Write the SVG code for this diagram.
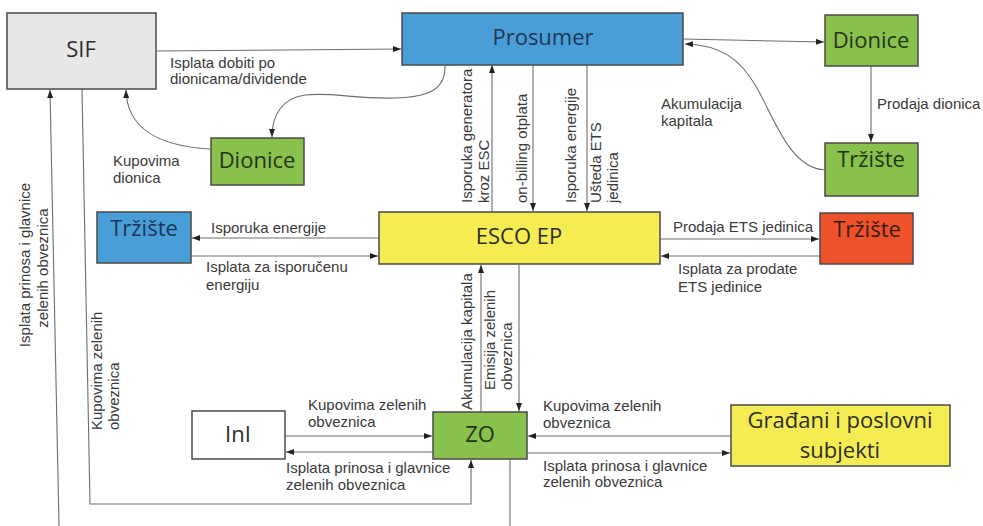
<svg xmlns="http://www.w3.org/2000/svg" width="983" height="526" viewBox="0 0 983 526">
  <defs>
    <marker id="arrow" viewBox="0 0 8 6" refX="8" refY="3" markerWidth="8" markerHeight="6" markerUnits="userSpaceOnUse" orient="auto">
      <path d="M0,0 L8,3 L0,6 z" fill="#222"/>
    </marker>
    <style>
      .box { stroke: #4a4a4a; stroke-width: 1.5; }
      .gray { fill: #e7e7e7; }
      .blue { fill: #4a9ed8; }
      .green { fill: #88c14b; }
      .yellow { fill: #f4ec52; }
      .red { fill: #ee522a; }
      .white { fill: #ffffff; }
      .node-label { font-family: "Open Sans", "Noto Sans", sans-serif; font-size: 22px; text-anchor: middle; fill: #2d2d2d; }
      .on-blue { fill: #1d3555; }
      .on-green { fill: #25331a; }
      .on-red { fill: #3a1a10; }
      .edge { fill: none; stroke: #6e6e6e; stroke-width: 1.1; }
      .arr { marker-end: url(#arrow); }
      .lbl { font-family: "Liberation Sans", Arial, sans-serif; font-size: 15px; fill: #3a3a3a; }
      .mid { text-anchor: middle; }
    </style>
  </defs>

  <rect width="983" height="526" fill="#ffffff"/>

  <!-- connectors -->
  <g id="connectors">
    <path class="edge arr" d="M157,51 L401,49"/>
    <path class="edge arr" d="M683,39 L824,42"/>
    <path class="edge arr" d="M871,66 L871,142"/>
    <path class="edge arr" d="M825,170 C790,168 775,120 757,88 C740,58 720,45 685,44"/>
    <path class="edge arr" d="M445,65 C446,90 428,97 395,98 C355,99 330,92 305,95 C283,98 272,114 272,137"/>
    <path class="edge arr" d="M210,149 C160,146 127,130 126,90"/>
    <path class="edge arr" d="M492,212 L492,65"/>
    <path class="edge arr" d="M533,65 L533,211"/>
    <path class="edge arr" d="M587,65 L587,211"/>
    <path class="edge arr" d="M379,238 L192,238"/>
    <path class="edge arr" d="M191,256 L378,256"/>
    <path class="edge arr" d="M660,239 L819,239"/>
    <path class="edge arr" d="M820,256 L661,256"/>
    <path class="edge arr" d="M481,411 L481,265"/>
    <path class="edge arr" d="M519,265 L519,411"/>
    <path class="edge arr" d="M285,436 L432,436"/>
    <path class="edge arr" d="M433,452 L286,452"/>
    <path class="edge arr" d="M731,436 L528,436"/>
    <path class="edge arr" d="M527,453 L730,453"/>
    <path class="edge arr" d="M82,89 L90,504 L471,504 L471,460"/>
    <path class="edge arr" d="M59,526 L50,90"/>
    <path class="edge" d="M510,459 L510,526"/>
  </g>

  <!-- connector labels -->
  <g id="edge-labels">
    <text class="lbl" x="170" y="68">Isplata dobiti po</text>
    <text class="lbl" x="170" y="84">dionicama/dividende</text>
    <text class="lbl" x="113" y="166">Kupovima</text>
    <text class="lbl" x="113" y="183">dionica</text>
    <text class="lbl" x="661" y="109">Akumulacija</text>
    <text class="lbl" x="661" y="126">kapitala</text>
    <text class="lbl" x="877" y="109">Prodaja dionica</text>
    <text class="lbl" x="211" y="233">Isporuka energije</text>
    <text class="lbl" x="206" y="272">Isplata za isporučenu</text>
    <text class="lbl" x="206" y="290">energiju</text>
    <text class="lbl" x="673" y="232">Prodaja ETS jedinica</text>
    <text class="lbl" x="678" y="274">Isplata za prodate</text>
    <text class="lbl" x="678" y="292">ETS jedinice</text>
    <text class="lbl" x="308" y="410">Kupovima zelenih</text>
    <text class="lbl" x="308" y="427">obveznica</text>
    <text class="lbl" x="286" y="473">Isplata prinosa i glavnice</text>
    <text class="lbl" x="286" y="490">zelenih obveznica</text>
    <text class="lbl" x="543" y="411">Kupovima zelenih</text>
    <text class="lbl" x="543" y="428">obveznica</text>
    <text class="lbl" x="543" y="471">Isplata prinosa i glavnice</text>
    <text class="lbl" x="543" y="487">zelenih obveznica</text>

    <!-- vertical labels -->
    <text class="lbl mid" transform="translate(30,265) rotate(-90)">Isplata prinosa i glavnice</text>
    <text class="lbl mid" transform="translate(48,268) rotate(-90)">zelenih obveznica</text>
    <text class="lbl" transform="translate(102,430) rotate(-90)">Kupovima zelenih</text>
    <text class="lbl" transform="translate(119,430) rotate(-90)">obveznica</text>
    <text class="lbl" transform="translate(472,203) rotate(-90)">Isporuka generatora</text>
    <text class="lbl" transform="translate(489,203) rotate(-90)">kroz ESC</text>
    <text class="lbl" transform="translate(527,203) rotate(-90)">on-billing otplata</text>
    <text class="lbl" transform="translate(576,203) rotate(-90)">Isporuka energije</text>
    <text class="lbl" transform="translate(601,203) rotate(-90)">Ušteda ETS</text>
    <text class="lbl" transform="translate(618,203) rotate(-90)">jedinica</text>
    <text class="lbl" transform="translate(472,410) rotate(-90)">Akumulacija kapitala</text>
    <text class="lbl" transform="translate(495,390) rotate(-90)">Emisija zelenih</text>
    <text class="lbl" transform="translate(512,390) rotate(-90)">obveznica</text>
  </g>

  <!-- nodes -->
  <g id="sif">
    <rect class="box gray" x="7" y="13" width="149" height="76"/>
    <text class="node-label" x="81" y="57">SIF</text>
  </g>
  <g id="prosumer">
    <rect class="box blue" x="402" y="13" width="281" height="52"/>
    <text class="node-label on-blue" x="543" y="45">Prosumer</text>
  </g>
  <g id="dionice-top">
    <rect class="box green" x="825" y="15" width="93" height="51"/>
    <text class="node-label on-green" x="871" y="48">Dionice</text>
  </g>
  <g id="trziste-green">
    <rect class="box green" x="825" y="143" width="93" height="53"/>
    <text class="node-label on-green" x="871" y="167">Tržište</text>
  </g>
  <g id="dionice-mid">
    <rect class="box green" x="211" y="138" width="93" height="47"/>
    <text class="node-label on-green" x="257" y="168">Dionice</text>
  </g>
  <g id="trziste-blue">
    <rect class="box blue" x="97" y="212" width="94" height="51"/>
    <text class="node-label on-blue" x="144" y="236">Tržište</text>
  </g>
  <g id="esco-ep">
    <rect class="box yellow" x="379" y="212" width="281" height="52"/>
    <text class="node-label" x="519" y="244">ESCO EP</text>
  </g>
  <g id="trziste-red">
    <rect class="box red" x="820" y="213" width="93" height="51"/>
    <text class="node-label on-red" x="867" y="237">Tržište</text>
  </g>
  <g id="ini">
    <rect class="box white" x="192" y="411" width="93" height="48"/>
    <text class="node-label" x="238" y="442">InI</text>
  </g>
  <g id="zo">
    <rect class="box green" x="433" y="412" width="94" height="47"/>
    <text class="node-label on-green" x="480" y="442">ZO</text>
  </g>
  <g id="gradani">
    <rect class="box yellow" x="731" y="405" width="219" height="61"/>
    <text class="node-label" x="840" y="428">Građani i poslovni</text>
    <text class="node-label" x="840" y="458">subjekti</text>
  </g>
</svg>
